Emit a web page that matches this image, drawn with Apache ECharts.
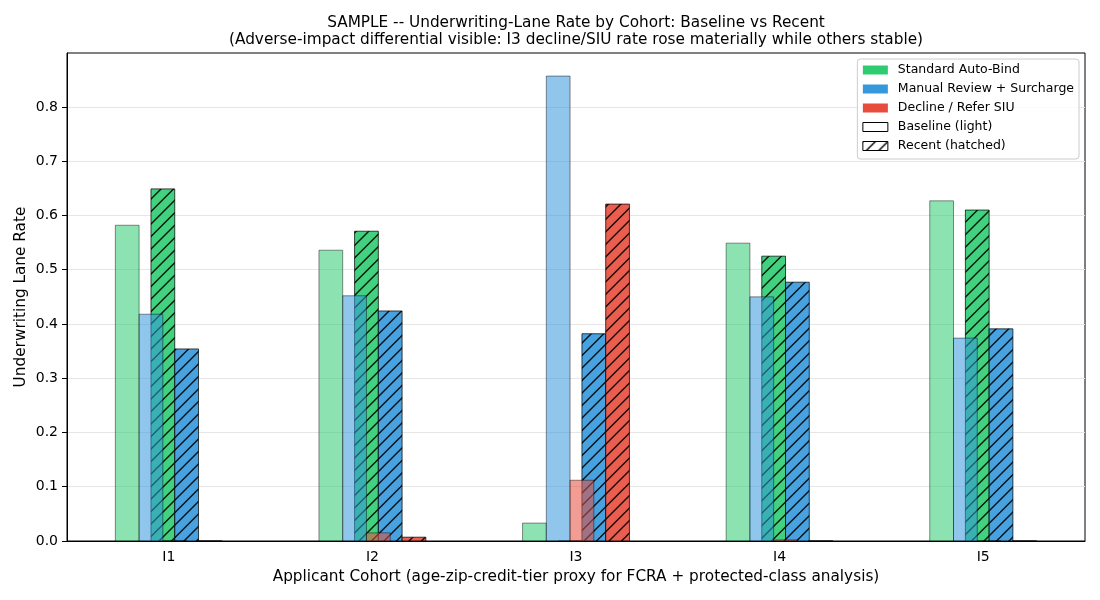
<!DOCTYPE html>
<html>
<head>
<meta charset="utf-8">
<script src="https://cdn.jsdelivr.net/npm/echarts@6/dist/echarts.min.js"></script>
<style>
  html, body { margin: 0; padding: 0; background: #fff; }
  #chart { width: 1100px; height: 600px; }
</style>
</head>
<body>
<div id="chart"></div>
<script>
// categories and lanes
var cohorts = ['I1', 'I2', 'I3', 'I4', 'I5'];
var lanes = ['Standard Auto-Bind', 'Manual Review + Surcharge', 'Decline / Refer SIU'];
var laneColors = ['#2ecc71', '#3498db', '#e74c3c'];

// lane rates, per cohort
var baselineStandard = [0.582, 0.536, 0.033, 0.549, 0.627];
var baselineManual   = [0.418, 0.452, 0.857, 0.450, 0.374];
var baselineDecline  = [0.000, 0.015, 0.112, 0.002, 0.000];
var recentStandard   = [0.649, 0.571, 0.000, 0.525, 0.610];
var recentManual     = [0.354, 0.424, 0.382, 0.477, 0.391];
var recentDecline    = [0.000, 0.007, 0.621, 0.000, 0.000];

var yTicks = [0, 0.1, 0.2, 0.3, 0.4, 0.5, 0.6, 0.7, 0.8];

var baselineByLane = [baselineStandard, baselineManual, baselineDecline];
var recentByLane = [recentStandard, recentManual, recentDecline];

var FONT = 'DejaVu Sans';
var barFrac = 0.35 / 3;

// "/" hatch tile, 12.5px period
function makeHatch(bg, lw) {
  var c = document.createElement('canvas');
  c.width = 25; c.height = 25;
  var ctx = c.getContext('2d');
  if (bg) { ctx.fillStyle = bg; ctx.fillRect(0, 0, 25, 25); }
  ctx.strokeStyle = '#000';
  ctx.lineWidth = lw;
  for (var k = -1; k <= 4; k++) {
    var s = k * 12.5;
    ctx.beginPath();
    ctx.moveTo(s + 1, -1);
    ctx.lineTo(s - 26, 26);
    ctx.stroke();
  }
  return c;
}
var hatchBars = { image: makeHatch(null, 1.4), repeat: 'repeat' };
var hatchLegend = { image: makeHatch('#fff', 1.4), repeat: 'repeat' };

function renderBar(params, api) {
  var ci = api.value(0), v = api.value(1), recent = api.value(2);
  var lane = params.seriesIndex;
  var band = api.size([1, 0])[0];
  var w = band * barFrac;
  var base = api.coord([ci, 0]);
  var top = api.coord([ci, v]);
  var cx = base[0] + ((lane - 1) + (recent ? 0.75 : -0.75)) * w;
  var shape = { x: cx - w / 2, y: top[1], width: w, height: base[1] - top[1] };
  var color = laneColors[lane];
  if (!recent) {
    return {
      type: 'rect',
      shape: shape,
      style: { fill: color, stroke: '#000', lineWidth: 0.8, opacity: 0.55 }
    };
  }
  return {
    type: 'group',
    children: [
      { type: 'rect', shape: shape, style: { fill: color, opacity: 0.9 } },
      { type: 'rect', shape: shape, style: { fill: hatchBars, stroke: '#000', lineWidth: 0.8, opacity: 0.9 } }
    ]
  };
}

var series = lanes.map(function (name, i) {
  var data = [];
  cohorts.forEach(function (c, j) { data.push([j, baselineByLane[i][j], 0]); });
  cohorts.forEach(function (c, j) { data.push([j, recentByLane[i][j], 1]); });
  return {
    name: name,
    type: 'custom',
    renderItem: renderBar,
    itemStyle: { color: laneColors[i] },
    encode: { x: 0, y: 1 },
    data: data,
    z: 2
  };
});
series.push({ name: 'Baseline (light)', type: 'custom', renderItem: function () { return null; }, data: [], itemStyle: { color: '#fff' } });
series.push({ name: 'Recent (hatched)', type: 'custom', renderItem: function () { return null; }, data: [], itemStyle: { color: '#fff' } });

var legendData = lanes.map(function (name, i) {
  return { name: name, icon: 'rect', itemStyle: { color: laneColors[i], borderWidth: 0 } };
});
legendData.push({ name: 'Baseline (light)', icon: 'rect', itemStyle: { color: '#fff', borderColor: '#000', borderWidth: 1 } });
legendData.push({ name: 'Recent (hatched)', icon: 'rect', itemStyle: { color: hatchLegend, borderColor: '#000', borderWidth: 1 } });

var chart = echarts.init(document.getElementById('chart'), null, { renderer: 'canvas' });
chart.setOption({
  animation: false,
  backgroundColor: '#fff',
  textStyle: { fontFamily: FONT },
  title: {
    text: 'SAMPLE -- Underwriting-Lane Rate by Cohort: Baseline vs Recent\n(Adverse-impact differential visible: I3 decline/SIU rate rose materially while others stable)',
    left: 576,
    top: 15,
    padding: 0,
    textAlign: 'center',
    textStyle: { fontFamily: FONT, fontSize: 15.3, fontWeight: 'normal', color: '#000', lineHeight: 17 }
  },
  legend: {
    orient: 'vertical',
    right: 21,
    top: 59,
    padding: [4, 5, 6, 5],
    itemWidth: 25,
    itemHeight: 9,
    itemGap: 5,
    backgroundColor: 'rgba(255,255,255,0.8)',
    borderColor: '#cccccc',
    borderWidth: 1,
    borderRadius: 3,
    selectedMode: false,
    textStyle: { fontFamily: FONT, fontSize: 12.5, color: '#000', lineHeight: 14, padding: [0, 0, 0, 5] },
    data: legendData
  },
  grid: {
    left: 67, right: 15, top: 53, bottom: 59,
    show: true, borderColor: '#000', borderWidth: 1, backgroundColor: 'transparent'
  },
  xAxis: {
    type: 'category',
    data: cohorts,
    boundaryGap: true,
    name: 'Applicant Cohort (age-zip-credit-tier proxy for FCRA + protected-class analysis)',
    nameLocation: 'middle',
    nameGap: 29,
    nameMoveOverlap: false,
    nameTextStyle: { fontFamily: FONT, fontSize: 15.3, color: '#000' },
    axisLine: { lineStyle: { color: '#000', width: 1 } },
    axisTick: { alignWithLabel: true, length: 5, lineStyle: { color: '#000' } },
    axisLabel: { fontFamily: FONT, fontSize: 14, color: '#000', margin: 9 },
    splitLine: { show: false }
  },
  yAxis: {
    type: 'value',
    min: 0,
    max: 0.8995,
    interval: 0.1,
    name: 'Underwriting Lane Rate',
    nameLocation: 'middle',
    nameGap: 38,
    nameMoveOverlap: false,
    nameTextStyle: { fontFamily: FONT, fontSize: 15.3, color: '#000' },
    axisLine: { show: true, lineStyle: { color: '#000', width: 1 } },
    axisTick: { show: true, length: 5, lineStyle: { color: '#000' }, customValues: yTicks },
    axisLabel: {
      fontFamily: FONT, fontSize: 14, color: '#000', margin: 9,
      customValues: yTicks,
      formatter: function (v) { return v.toFixed(1); }
    },
    splitLine: { show: true, lineStyle: { color: '#e6e6e6', width: 1 } }
  },
  series: series
});
</script>
</body>
</html>
